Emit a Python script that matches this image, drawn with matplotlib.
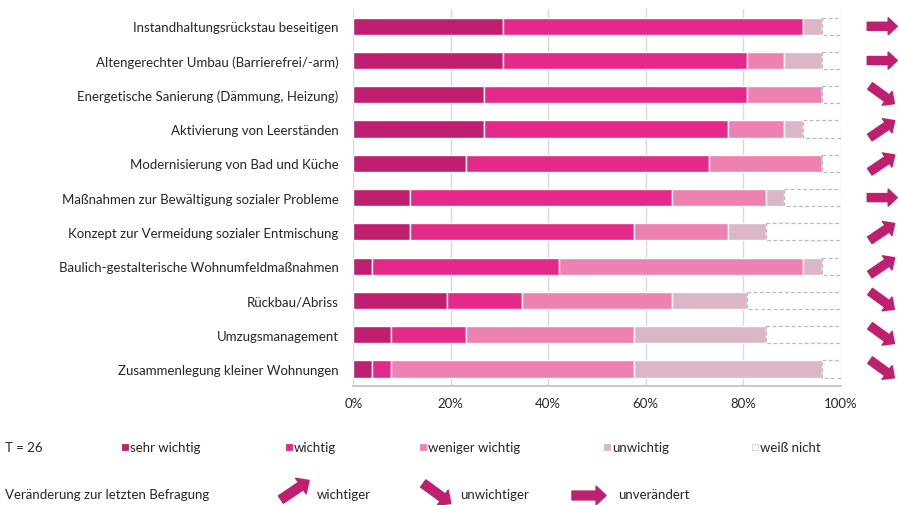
import numpy as np
import matplotlib
matplotlib.use('Agg')
import matplotlib.pyplot as plt
from matplotlib.patches import Rectangle
from matplotlib.transforms import blended_transform_factory, offset_copy

plt.rcParams['font.family'] = ['Lato', 'DejaVu Sans']

# data (counts of answers, T = 26)
massnahmen = ['Instandhaltungsrückstau beseitigen',
              'Altengerechter Umbau (Barrierefrei/-arm)',
              'Energetische Sanierung (Dämmung, Heizung)',
              'Aktivierung von Leerständen',
              'Modernisierung von Bad und Küche',
              'Maßnahmen zur Bewältigung sozialer Probleme',
              'Konzept zur Vermeidung sozialer Entmischung',
              'Baulich-gestalterische Wohnumfeldmaßnahmen',
              'Rückbau/Abriss',
              'Umzugsmanagement',
              'Zusammenlegung kleiner Wohnungen']
sehr_wichtig = [8, 8, 7, 7, 6, 3, 3, 1, 5, 2, 1]
wichtig = [16, 13, 14, 13, 13, 14, 12, 10, 4, 4, 1]
weniger_wichtig = [0, 2, 4, 3, 6, 5, 5, 13, 8, 9, 13]
unwichtig = [1, 2, 0, 1, 0, 1, 2, 1, 4, 7, 10]
weiss_nicht = [1, 1, 1, 2, 1, 3, 4, 1, 5, 4, 1]
# + wichtiger, - unwichtiger, = unverändert
trend = ['=', '=', '-', '+', '+', '=', '+', '+', '-', '-', '-']
T = 26

serien = [('sehr wichtig', sehr_wichtig, '#C01E6E'),
          ('wichtig', wichtig, '#E5298A'),
          ('weniger wichtig', weniger_wichtig, '#ED82B1'),
          ('unwichtig', unwichtig, '#DAB6C7')]
arrow_col = '#C01E6E'
txt_col = '#262626'
fs = 9.5

fig = plt.figure(figsize=(8.99, 5.06), dpi=100)
ax = fig.add_axes([0.393, 0.235, 0.542, 0.745])

y = np.arange(len(massnahmen))
left = np.zeros(len(massnahmen))
for name, vals, col in serien:
    w = np.array(vals) / T * 100
    ax.barh(y, w, left=left, height=0.5, color=col, edgecolor='white',
            linewidth=1, zorder=3)
    left += w
w = np.array(weiss_nicht) / T * 100
ax.barh(y, w, left=left, height=0.5, color='white', edgecolor='#BBBBBB',
        linewidth=0.9, linestyle=(0, (3, 2)), zorder=3)

ax.set_xlim(0, 100)
ax.set_ylim(len(massnahmen) - 0.5, -0.5)
ax.set_xticks(np.arange(0, 101, 20))
ax.set_xticklabels([f'{v}%' for v in range(0, 101, 20)], fontsize=fs, color=txt_col)
ax.set_yticks(y)
ax.set_yticklabels(massnahmen, fontsize=fs, color=txt_col)
ax.tick_params(length=0, pad=8)
ax.tick_params(axis='y', pad=10.5)
ax.grid(axis='x', color='#D9D9D9', linewidth=1, zorder=0)
for s in ['top', 'right', 'left']:
    ax.spines[s].set_visible(False)
ax.spines['bottom'].set_color('#BFBFBF')
ax.spines['bottom'].set_linewidth(1.2)

# trend arrows
ang = {'+': 34, '-': -36, '=': 0}


def pfeil(x, y, base, richtung, laenge, dicke=1.0):
    a = np.deg2rad(ang[richtung])
    dx, dy = np.cos(a) * laenge, np.sin(a) * laenge
    tr = offset_copy(base, fig=fig, x=dx / 2, y=dy / 2, units='points')
    style = (f'simple,head_width={1.22 * dicke},head_length={0.65 * dicke},'
             f'tail_width={0.58 * dicke}')
    ax.annotate('', xy=(x, y), xycoords=tr, xytext=(-dx, -dy),
                textcoords='offset points',
                arrowprops=dict(arrowstyle=style, color=arrow_col,
                                shrinkA=0, shrinkB=0, mutation_scale=10),
                annotation_clip=False)


zeilen = blended_transform_factory(ax.transAxes, ax.transData)
for i, t in enumerate(trend):
    pfeil(1.0855, i, zeilen, t, 21.6)

# legend
fig.text(5 / 899, 1 - 448 / 506, 'T = 26', fontsize=fs, color=txt_col, va='center')
leg = [('sehr wichtig', '#C01E6E', 122), ('wichtig', '#E5298A', 286),
       ('weniger wichtig', '#ED82B1', 420), ('unwichtig', '#DAB6C7', 604),
       ('weiß nicht', 'white', 752)]
for name, col, xp in leg:
    ls = (0, (1.5, 1)) if col == 'white' else '-'
    ec = '#BBBBBB' if col == 'white' else col
    fig.add_artist(Rectangle((xp / 899, 1 - 451 / 506), 6 / 899, 6 / 506,
                             transform=fig.transFigure, facecolor=col,
                             edgecolor=ec, linewidth=0.6, linestyle=ls))
    fig.text((xp + 8) / 899, 1 - 448 / 506, name, fontsize=fs, color=txt_col,
             va='center')

fig.text(5 / 899, 1 - 495 / 506, 'Veränderung zur letzten Befragung', fontsize=fs,
         color=txt_col, va='center')
for t, xc, yc, lab, xl in [('+', 295, 491, 'wichtiger', 317),
                           ('-', 437, 494.5, 'unwichtiger', 460),
                           ('=', 589, 496.5, 'unverändert', 618)]:
    pfeil(xc / 899, 1 - yc / 506, fig.transFigure, t, 24.5, 1.1)
    fig.text(xl / 899, 1 - 495 / 506, lab, fontsize=fs, color=txt_col, va='center')

fig.savefig('out.png', dpi=100)
